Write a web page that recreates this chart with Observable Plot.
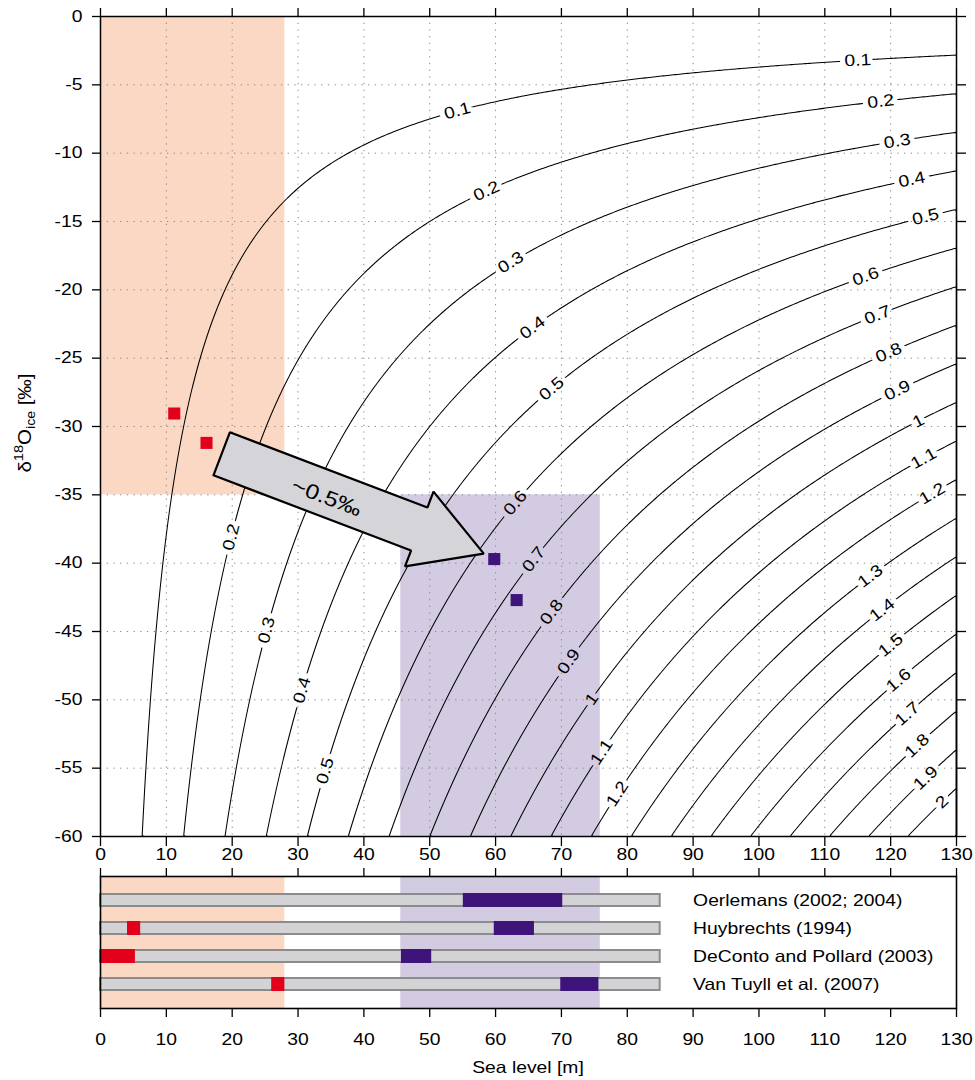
<!DOCTYPE html>
<html><head><meta charset="utf-8">
<script src="https://cdn.jsdelivr.net/npm/d3@7"></script>
<script src="https://cdn.jsdelivr.net/npm/@observablehq/plot@0.6"></script>
<style>
body{margin:0;background:#fff;font-family:"Liberation Sans",Arial,sans-serif;}
#chart svg{display:block;}
</style>
</head><body><div id="chart"></div>
<script>
// ---------- data ----------
const xTicks = [0,10,20,30,40,50,60,70,80,90,100,110,120,130];
const yTicks = [0,-5,-10,-15,-20,-25,-30,-35,-40,-45,-50,-55,-60];
const contourLevels = [0.1,0.2,0.3,0.4,0.5,0.6,0.7,0.8,0.9,1,1.1,1.2,1.3,1.4,1.5,1.6,1.7,1.8,1.9,2];
const oceanDepth = 3800; // m, mass-balance depth used for the contoured field
// contour labels: [level, sea level] and [level, d18O_ice]
const labelsAtX = [[0.1,54.2],[0.1,115],[0.2,58.6],[0.2,118.5],[0.3,62.3],[0.3,121],[0.4,65.6],[0.4,123.2],
  [0.5,68.5],[0.5,125.3],[0.6,116.2],[0.6,63.0],[0.7,118],[0.7,65.8],[0.8,119.7],[0.8,68.5],[0.9,121],[0.9,71.1],
  [1,124.2],[1,74.6],[1.1,125],[1.1,76.1],[1.2,126.3],[1.2,78.5],[1.3,116.9],[1.4,118.7],[1.5,120],[1.6,121.2],
  [1.7,122.5],[1.8,124],[1.9,125.3],[2,127.8]];
const labelsAtY = [[0.2,-38.1],[0.3,-44.9],[0.4,-49.3],[0.5,-55.2]];
// shaded ranges
const shadeX1 = [0, 45.6];
const shadeX2 = [28, 75.9];
const shadeY1 = [-35, -60];
const shadeY2 = [0, -35];
const shadeFill = ["#fad8c4", "#d3cbe1"];
// ice sheet estimates
const warmX = [11.2, 16.1];
const warmY = [-29.05, -31.2];
const coldX = [59.8, 63.2];
const coldY = [-39.7, -42.7];
// arrow annotation
const arrowTail = [18.4, -32.0];
const arrowTip = [58.2, -39.3];
const arrowLabel = "~0.5‰";
// model studies (lower panel)
const studies = ["Oerlemans (2002; 2004)", "Huybrechts (1994)", "DeConto and Pollard (2003)", "Van Tuyll et al. (2007)"];
const rangeLo = [0, 0, 0, 0];
const rangeHi = [85, 85, 85, 85];
const warmLo = [null, 4.1, 0, 26.0];
const warmHi = [null, 6.1, 5.3, 28.0];
const coldLo = [55.1, 59.8, 45.7, 69.9];
const coldHi = [70.2, 65.9, 50.3, 75.7];
const legendX = 90;

// ---------- layout ----------
const W = 975, H1 = 866, H2 = 214;
const mL = 100, mR = 19, mT = 16, mB = 30;
const sx = (W - mL - mR) / 130, sy = (H1 - mT - mB) / 60;
const FONT = "Liberation Sans, Arial, sans-serif";
const FS = 16.5, STRETCH = 1.17;
const RED = "#e2001a", PURPLE = "#3e137a";

const field = (x, y) => -y * x / (oceanDepth - x);

const shades = shadeX1.map((x1, i) => ({x1, x2: shadeX2[i], y1: shadeY1[i], y2: shadeY2[i], c: shadeFill[i]}));
const labels = [];
for (const [lev, x] of labelsAtX) labels.push({lev, x, y: -lev * (oceanDepth - x) / x});
for (const [lev, y] of labelsAtY) labels.push({lev, x: lev * oceanDepth / (lev - y), y});
for (const d of labels) {
  const slope = d.lev * oceanDepth / (d.x * d.x); // dy/dx in data
  d.rot = -Math.atan(slope * sy / sx) * 180 / Math.PI;
  d.txt = String(d.lev);
}

// block arrow polygon, built in pixel offsets then converted back to data units
const adxp = (arrowTip[0] - arrowTail[0]) * sx, adyp = -(arrowTip[1] - arrowTail[1]) * sy;
const aL = Math.hypot(adxp, adyp), aux = adxp / aL, auy = adyp / aL, anx = -auy, any = aux;
function toData(a, b) {
  const px = a * aux + b * anx, py = a * auy + b * any;
  return {x: arrowTail[0] + px / sx, y: arrowTail[1] - py / sy};
}
const shaftW = 23, headW = 40, headL = 69;
const arrowPts = [
  [0, shaftW], [aL - headL, shaftW], [aL - headL, headW], [aL, 0],
  [aL - headL, -headW], [aL - headL, -shaftW], [0, -shaftW], [0, shaftW]
].map(([a, b]) => toData(a, b));
const arrowAngle = Math.atan2(adyp, adxp) * 180 / Math.PI;
const arrowTextPos = toData(aL * 0.405, 3.5);

const warmPts = warmX.map((x, i) => ({x, y: warmY[i]}));
const coldPts = coldX.map((x, i) => ({x, y: coldY[i]}));
const gridXv = xTicks.filter(v => v > 0 && v < 130);
const gridYv = yTicks.filter(v => v < 0 && v > -60);

const main = Plot.plot({
  width: W, height: H1, marginLeft: mL, marginRight: mR, marginTop: mT, marginBottom: mB,
  style: {fontFamily: FONT, fontSize: FS + "px", color: "black", background: "white"},
  x: {domain: [0, 130]},
  y: {domain: [-60, 0]},
  color: {type: "identity"},
  marks: [
    Plot.rect(shades, {x1: "x1", x2: "x2", y1: "y1", y2: "y2", fill: "c"}),
    Plot.ruleX(gridXv, {stroke: "#8a8a8a", strokeWidth: 1, strokeDasharray: "1.3 5.4"}),
    Plot.ruleY(gridYv, {stroke: "#8a8a8a", strokeWidth: 1, strokeDasharray: "1.3 5.4"}),
    Plot.contour({x1: 0, y1: -60, x2: 130, y2: 0, value: field, thresholds: contourLevels,
      stroke: "black", strokeWidth: 1.05, fill: "none"}),
    Plot.text(labels, {x: "x", y: "y", text: "txt", rotate: "rot", fontSize: FS, fill: "black"}),
    Plot.line(arrowPts, {x: "x", y: "y", fill: "#d5d5d9", stroke: "black", strokeWidth: 2.2, strokeLinejoin: "miter"}),
    Plot.text([arrowTextPos], {x: "x", y: "y", text: () => arrowLabel, rotate: arrowAngle, fontSize: 21, fill: "black"}),
    Plot.dot(warmPts, {x: "x", y: "y", symbol: "square", r: 6.8, fill: RED, stroke: null}),
    Plot.dot(coldPts, {x: "x", y: "y", symbol: "square", r: 6.8, fill: PURPLE, stroke: null}),
    Plot.frame({stroke: "black", strokeWidth: 1.5}),
    Plot.axisX(xTicks, {anchor: "bottom", tickSize: 10, tickPadding: 2, tickFormat: d => String(d), fontSize: FS, strokeWidth: 1.3, label: null}),
    Plot.axisX(xTicks, {anchor: "top", tickSize: 9, tickFormat: () => "", strokeWidth: 1.3, label: null}),
    Plot.axisY(yTicks, {anchor: "left", tickSize: 8, tickPadding: 10, tickFormat: d => String(d), fontSize: FS, strokeWidth: 1.3, label: null}),
    Plot.axisY(yTicks, {anchor: "right", tickSize: 9, tickFormat: () => "", strokeWidth: 1.3, label: null})
  ]
});

const rows = studies.map((s, i) => ({s, lo: rangeLo[i], hi: rangeHi[i]}));
const warmSeg = studies.map((s, i) => ({s, lo: warmLo[i], hi: warmHi[i]})).filter(d => d.lo != null);
const coldSeg = studies.map((s, i) => ({s, lo: coldLo[i], hi: coldHi[i]}));
const shadeCols = shades.map(d => ({x1: d.x1, x2: d.x2, c: d.c}));

const lower = Plot.plot({
  width: W, height: H2, marginLeft: mL, marginRight: mR, marginTop: 10, marginBottom: 72,
  style: {fontFamily: FONT, fontSize: FS + "px", color: "black", background: "white"},
  x: {domain: [0, 130]},
  y: {domain: studies, paddingInner: 0.5, paddingOuter: 0.59, axis: null},
  color: {type: "identity"},
  marks: [
    Plot.rect(shadeCols, {x1: "x1", x2: "x2", fill: "c"}),
    Plot.barX(rows, {x1: "lo", x2: "hi", y: "s", fill: "#d3d3d6", stroke: "#8c8c8c", strokeWidth: 2, insetTop: 1, insetBottom: 1}),
    Plot.barX(warmSeg, {x1: "lo", x2: "hi", y: "s", fill: RED}),
    Plot.barX(coldSeg, {x1: "lo", x2: "hi", y: "s", fill: PURPLE}),
    Plot.text(studies, {x: () => legendX, y: d => d, text: d => d, textAnchor: "start", fontSize: FS, fill: "black"}),
    Plot.frame({stroke: "black", strokeWidth: 1.6}),
    Plot.axisX(xTicks, {anchor: "bottom", tickSize: 9, tickPadding: 16, tickFormat: d => String(d), fontSize: FS, strokeWidth: 1.3, label: null}),
    Plot.axisX(xTicks, {anchor: "top", tickSize: 9, tickFormat: () => "", strokeWidth: 1.3, label: null})
  ]
});

const root = document.getElementById("chart");
root.appendChild(main);
root.appendChild(lower);

// axis titles
const ylab = d3.select(main).append("text")
  .attr("transform", "translate(31,423) rotate(-90) scale(1.08,1)")
  .attr("text-anchor", "middle").attr("font-family", FONT).attr("fill", "black")
  .attr("data-nostretch", "1")
  .style("font-size", "19px");
ylab.append("tspan").text("δ");
ylab.append("tspan").style("font-size", "13.5px").attr("dy", -8).text("18");
ylab.append("tspan").attr("dy", 8).text("O");
ylab.append("tspan").style("font-size", "13px").attr("dy", 4).text("ice");
ylab.append("tspan").attr("dy", -4).text(" [‰]");

d3.select(lower).append("text")
  .attr("x", (mL + W - mR) / 2).attr("y", 207)
  .attr("text-anchor", "middle").attr("font-family", FONT).attr("fill", "black")
  .style("font-size", FS + "px")
  .text("Sea level [m]");

// the reference typeface is set slightly wide: stretch glyphs horizontally
for (const svg of [main, lower]) {
  svg.querySelectorAll("text").forEach(t => {
    if (t.getAttribute("data-nostretch")) return;
    const len = t.getComputedTextLength();
    if (len > 0) {
      t.setAttribute("textLength", (len * STRETCH).toFixed(2));
      t.setAttribute("lengthAdjust", "spacingAndGlyphs");
    }
  });
}

// break the contour lines under their labels with a mask
(function () {
  const ns = "http://www.w3.org/2000/svg";
  const contourG = main.querySelector('g[aria-label="contour"]');
  const labelG = main.querySelector('g[aria-label="text"]');
  if (!contourG || !labelG) return;
  const defs = document.createElementNS(ns, "defs");
  const mask = document.createElementNS(ns, "mask");
  mask.setAttribute("id", "contour-label-mask");
  mask.setAttribute("maskUnits", "userSpaceOnUse");
  mask.setAttribute("x", 0); mask.setAttribute("y", 0);
  mask.setAttribute("width", W); mask.setAttribute("height", H1);
  const bg = document.createElementNS(ns, "rect");
  bg.setAttribute("width", W); bg.setAttribute("height", H1); bg.setAttribute("fill", "white");
  mask.appendChild(bg);
  const gT = labelG.getAttribute("transform");
  const holder = document.createElementNS(ns, "g");
  if (gT) holder.setAttribute("transform", gT);
  holder.setAttribute("font-size", FS);
  holder.setAttribute("font-family", FONT);
  holder.setAttribute("text-anchor", "middle");
  labelG.querySelectorAll("text").forEach(t => {
    const c = t.cloneNode(true);
    c.setAttribute("fill", "black");
    c.setAttribute("stroke", "black");
    c.setAttribute("stroke-width", 9);
    c.setAttribute("stroke-linejoin", "round");
    holder.appendChild(c);
  });
  mask.appendChild(holder);
  defs.appendChild(mask);
  main.appendChild(defs);
  const wrap = document.createElementNS(ns, "g");
  wrap.setAttribute("mask", "url(#contour-label-mask)");
  contourG.parentNode.insertBefore(wrap, contourG);
  wrap.appendChild(contourG);
})();
</script></body></html>
